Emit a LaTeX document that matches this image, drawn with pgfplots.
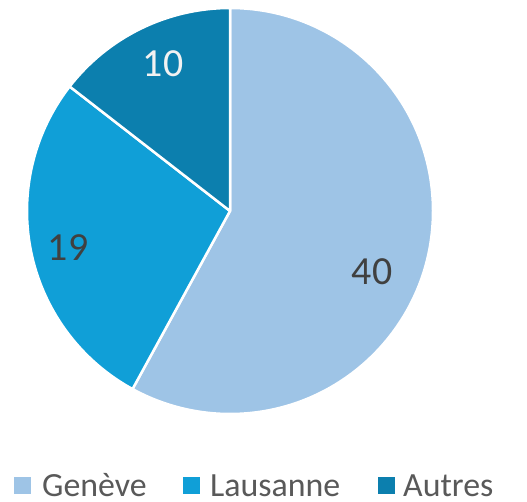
\documentclass[border=0pt]{standalone}
\usepackage{pgfplots}
\usepackage{pgfplotstable}
\pgfplotsset{compat=1.18}
\usepackage{fontspec}
\setmainfont{Carlito}
\definecolor{geneve}{RGB}{158,196,230}
\definecolor{lausanne}{RGB}{16,159,215}
\definecolor{autres}{RGB}{12,127,174}
\definecolor{labdark}{RGB}{64,64,64}
\definecolor{legtext}{RGB}{89,89,89}
\pgfplotstableread{
label value
Genève 40
Lausanne 19
Autres 10
}\piedata
\pgfplotstablegetelem{0}{value}\of\piedata \let\vA\pgfplotsretval
\pgfplotstablegetelem{1}{value}\of\piedata \let\vB\pgfplotsretval
\pgfplotstablegetelem{2}{value}\of\piedata \let\vC\pgfplotsretval
\pgfplotstablegetelem{0}{label}\of\piedata \let\lA\pgfplotsretval
\pgfplotstablegetelem{1}{label}\of\piedata \let\lB\pgfplotsretval
\pgfplotstablegetelem{2}{label}\of\piedata \let\lC\pgfplotsretval
\pgfmathsetmacro\tot{\vA+\vB+\vC}
\pgfmathsetmacro\aA{90}
\pgfmathsetmacro\aB{90-360*\vA/\tot}
\pgfmathsetmacro\aC{\aB-360*\vB/\tot}
\pgfmathsetmacro\aD{\aC-360*\vC/\tot}
\begin{document}
\begin{tikzpicture}
\begin{axis}[
  width=527bp, height=502bp, scale only axis,
  xmin=0, xmax=527, ymin=0, ymax=502,
  axis lines=none, clip=false,
]
\path (axis cs:0,0) rectangle (axis cs:527,502);
\fill[geneve, draw=white, line width=2.5bp, line join=round] (axis cs:230,291) -- ++(\aA:203bp) arc[start angle=\aA, end angle=\aB, radius=203bp] -- cycle;
\fill[lausanne, draw=white, line width=2.5bp, line join=round] (axis cs:230,291) -- ++(\aB:203bp) arc[start angle=\aB, end angle=\aC, radius=203bp] -- cycle;
\fill[autres, draw=white, line width=2.5bp, line join=round] (axis cs:230,291) -- ++(\aC:203bp) arc[start angle=\aC, end angle=\aD, radius=203bp] -- cycle;
\node[font=\fontsize{40}{42}\selectfont, text=labdark] at (axis cs:372,230) {\vA};
\node[font=\fontsize{40}{42}\selectfont, text=labdark] at (axis cs:68,254) {\vB};
\node[font=\fontsize{40}{42}\selectfont, text=white!95!black] at (axis cs:163,438) {\vC};
% legend
\fill[geneve] (axis cs:14,8) rectangle (axis cs:31,25);
\fill[lausanne] (axis cs:183,8) rectangle (axis cs:200,25);
\fill[autres] (axis cs:378,8) rectangle (axis cs:395,25);
\node[anchor=base west, inner sep=0pt, font=\fontsize{34}{36}\selectfont, text=legtext] at (axis cs:42,6) {\lA};
\node[anchor=base west, inner sep=0pt, font=\fontsize{34}{36}\selectfont, text=legtext] at (axis cs:210,6) {\lB};
\node[anchor=base west, inner sep=0pt, font=\fontsize{34}{36}\selectfont, text=legtext] at (axis cs:403,6) {\lC};
\end{axis}
\end{tikzpicture}
\end{document}
